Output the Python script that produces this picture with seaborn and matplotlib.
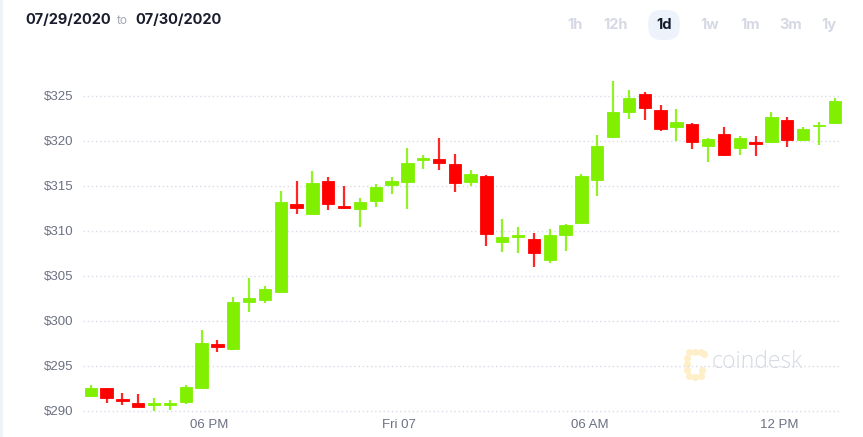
import numpy as np
import pandas as pd
import matplotlib.pyplot as plt
import seaborn as sns

# Half-hour candles, 07/29 ~2pm -> 07/30 ~1pm (ETH, USD)
opens = [291.63, 292.50, 291.35, 290.85, 290.65, 290.65, 290.93, 292.50, 297.40, 296.80,
         302.10, 302.25, 303.20, 312.95, 311.90, 315.50, 312.70, 312.45, 313.25, 315.05,
         315.40, 317.90, 317.95, 317.40, 315.40, 316.10, 308.70, 309.30, 309.05, 306.75,
         309.50, 310.85, 315.65, 320.40, 323.20, 325.20, 323.40, 321.50, 321.85, 319.40,
         320.75, 319.20, 319.80, 319.90, 322.35, 320.10, 321.60, 322.00]
closes = [292.52, 291.45, 291.10, 290.45, 290.75, 290.90, 292.60, 297.50, 297.05, 302.10,
          302.50, 303.50, 313.15, 312.55, 315.25, 312.95, 312.55, 313.20, 314.85, 315.55,
          317.55, 318.00, 317.55, 315.25, 316.25, 309.60, 309.25, 309.40, 307.50, 309.50,
          310.60, 316.10, 319.45, 323.20, 324.75, 323.60, 321.25, 322.10, 319.85, 320.20,
          318.45, 320.35, 319.65, 322.60, 320.10, 321.30, 321.70, 324.45]
highs = [292.90, 292.50, 292.00, 291.85, 291.40, 291.20, 292.86, 299.00, 297.85, 302.65,
         304.70, 303.90, 314.40, 315.50, 316.60, 315.95, 314.95, 313.60, 315.20, 315.95,
         319.15, 318.40, 320.25, 318.50, 316.80, 316.20, 311.35, 310.40, 309.80, 310.20,
         310.80, 316.35, 320.60, 326.60, 325.60, 325.40, 324.00, 323.50, 322.00, 320.25,
         321.55, 320.50, 320.50, 323.15, 322.65, 321.55, 322.10, 324.80]
lows = [291.56, 290.80, 290.60, 290.40, 290.00, 290.10, 290.74, 292.40, 296.55, 296.75,
        301.00, 301.95, 303.20, 311.85, 311.75, 312.30, 312.40, 310.45, 312.65, 314.05,
        312.45, 316.90, 316.75, 314.35, 315.00, 308.30, 307.65, 307.50, 306.00, 306.45,
        307.80, 310.75, 313.85, 320.35, 322.40, 322.30, 321.05, 320.00, 319.05, 317.65,
        318.30, 318.40, 318.25, 319.70, 319.25, 319.95, 319.55, 321.85]

y_ticks = [290, 295, 300, 305, 310, 315, 320, 325]
x_tick_pos = [7.5, 19.5, 31.5, 43.5]
x_tick_labels = ["06 PM", "Fri 07", "06 AM", "12 PM"]
ranges = ["1h", "12h", "1d", "1w", "1m", "3m", "1y"]

GREEN = "#80f000"
RED = "#ff0000"

df = pd.DataFrame({"open": opens, "close": closes, "high": highs, "low": lows})
df["idx"] = np.arange(len(df))
df["up"] = df["close"] >= df["open"]
df["color"] = np.where(df["up"], GREEN, RED)
df["bottom"] = df[["open", "close"]].min(axis=1)
df["height"] = (df["close"] - df["open"]).abs().clip(lower=0.2)

sns.set_theme(style="white")
plt.rcParams["font.family"] = ["Liberation Sans", "DejaVu Sans"]

W, H = 863, 437
fig = plt.figure(figsize=(W / 100, H / 100), dpi=100)

# overlay in pixel coords for header / watermark
bg = fig.add_axes([0, 0, 1, 1], zorder=0)
bg.set_xlim(0, W)
bg.set_ylim(H, 0)
bg.axis("off")
bg.add_patch(plt.Rectangle((0, 0), 3, H, color="#eef2f9", lw=0))

bg.text(25, 20, "07/29/2020", fontsize=10.5, fontweight="bold", color="#1a1d2e",
        family="Inter", va="center", ha="left")
bg.text(117, 21, "to", fontsize=8.5, color="#a3a6b4", family="Inter", va="center", ha="left")
bg.text(135, 20, "07/30/2020", fontsize=10.5, fontweight="bold", color="#1a1d2e",
        family="Inter", va="center", ha="left")

btn_x = [575, 615.5, 664, 709.5, 750, 791, 828.5]
for lab, bx in zip(ranges, btn_x):
    if lab == "1d":
        bg.text(bx, 25, lab, fontsize=10.5, fontweight="bold", color="#141a2e", family="Inter",
                ha="center", va="center",
                bbox=dict(boxstyle="round,pad=0.55,rounding_size=0.9", fc="#eef2fa", ec="none"))
    else:
        bg.text(bx, 25, lab, fontsize=10.5, fontweight="bold", color="#d6d9e4", family="Inter",
                ha="center", va="center")

# coindesk watermark
logo_pts = [(689, 352), (695, 351.5), (701, 352), (704, 354), (687, 358), (687, 364),
            (687, 370), (689, 376), (695, 376.5), (701, 376), (702, 370)]
bg.scatter([p[0] for p in logo_pts], [p[1] for p in logo_pts], s=26, color="#feefc9", lw=0)
bg.text(712, 362, "coindesk", fontsize=16.5, color="#d6d9e2", family="Open Sans",
        fontweight="light", va="center", ha="left")

ax = fig.add_axes([83 / W, 1 - 415 / H, (842 - 83) / W, (415 - 78) / H], zorder=1)
ax.patch.set_alpha(0)

ax.vlines(df["idx"], df["low"], df["high"], colors=df["color"], lw=1.6, alpha=0.85, zorder=2)
ax.bar(df["idx"], df["height"], bottom=df["bottom"], width=0.78, color=df["color"],
       edgecolor=df["color"], lw=0.6, zorder=3)

ax.set_xlim(-0.49, 47.46)
ax.set_ylim(289.52, 326.97)
ax.set_yticks(y_ticks)
ax.set_yticklabels([f"${v}" for v in y_ticks])
ax.set_xticks(x_tick_pos)
ax.set_xticklabels(x_tick_labels)
ax.tick_params(axis="y", length=0, pad=7, labelsize=9.5, labelcolor="#6c7083")
ax.tick_params(axis="x", length=0, pad=3, labelsize=9.5, labelcolor="#6c7083")
ax.yaxis.grid(True, linestyle=(0, (1, 2)), lw=1, color="#d8dce7", zorder=1)
ax.xaxis.grid(False)
sns.despine(ax=ax, left=True, bottom=True)

fig.savefig("out.png", dpi=100)
